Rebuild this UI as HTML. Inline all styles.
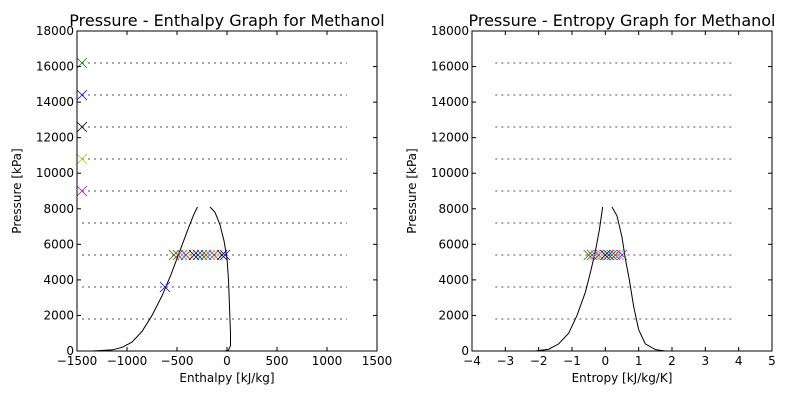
<!DOCTYPE html>
<html><head><meta charset="utf-8"><style>
body{margin:0;background:#fff;font-family:"DejaVu Sans",sans-serif}
svg text{font-family:"DejaVu Sans",sans-serif;font-size:12px}
</style></head><body>
<svg id="c" width="800" height="400"></svg>
<script>
const isoP=[1800,3600,5400,7200,9000,10800,12600,14400,16200];
const domeH=[[-1350,0],[-1150,60],[-1050,200],[-950,500],[-850,1100],[-750,2000],[-650,3100],[-560,4300],[-500,5200],[-440,6100],[-380,7000],[-330,7700],[-295,8100]];
const domeHR=[[-170,8100],[-120,7800],[-70,7100],[-30,6200],[0,5200],[15,4000],[25,2500],[35,1000],[35,300],[15,50],[-20,0]];
const domeS=[[-2.1,0],[-1.7,100],[-1.4,400],[-1.1,1000],[-0.85,2000],[-0.6,3300],[-0.45,4400],[-0.3,5600],[-0.18,6800],[-0.08,8100]];
const domeSR=[[0.2,8100],[0.35,7600],[0.5,6400],[0.6,5200],[0.72,4000],[0.85,2500],[1.0,1200],[1.2,400],[1.5,80],[1.8,0]];
const markH=[-530,-490,-450,-410,-370,-330,-290,-250,-210,-170,-130,-90,-50,-20];
const markS=[-0.5,-0.4,-0.3,-0.2,-0.1,0,0.1,0.2,0.3,0.4,0.5];
const sideP=[9000,10800,12600,14400,16200];
const colors=['#0000ff','#008000','#ff0000','#00bfbf','#bf00bf','#bfbf00','#000000'];
const sideColors=['#bf00bf','#bfbf00','#000000','#0000ff','#008000'];
const xTicksH=[-1500,-1000,-500,0,500,1000,1500];
const xTicksS=[-4,-3,-2,-1,0,1,2,3,4,5];
const yTicks=[0,2000,4000,6000,8000,10000,12000,14000,16000,18000];
const svg=document.getElementById('c');const NS='http://www.w3.org/2000/svg';
function mk(t,a,p){const e=document.createElementNS(NS,t);for(const k in a)e.setAttribute(k,a[k]);(p||svg).appendChild(e);return e;}
function panel(x0,x1,xmin,xmax,xt,title,xl,dL,dR,marks,lineX,side,name){
 const y0=351,y1=31;const sx=v=>x0+(v-xmin)/(xmax-xmin)*(x1-x0);const sy=v=>y0-v/18000*(y0-y1);
 const g=mk('g',{});
 isoP.forEach(p=>{const l=mk('line',{x1:sx(lineX[0]),x2:sx(lineX[1]),y1:sy(p),y2:sy(p),stroke:'#aaa','stroke-width':2,'stroke-dasharray':'2,4'},g);});
 [dL,dR].forEach(d=>{const pl=mk('polyline',{points:d.map(q=>sx(q[0])+','+sy(q[1])).join(' '),fill:'none',stroke:'#000','stroke-width':1},g);});
 function cross(x,y,c){const m=mk('path',{d:`M${x-5},${y-5}L${x+5},${y+5}M${x-5},${y+5}L${x+5},${y-5}`,stroke:c,'stroke-width':0.8},g);}
 marks.forEach((v,i)=>cross(sx(v),sy(5400),colors[(i+1)%7]));
 if(side){side.forEach((p,i)=>cross(sx(-1450),sy(p),sideColors[i]));cross(sx(-620),sy(3600),'#0000ff');}
 mk('rect',{x:x0,y:y1,width:x1-x0,height:y0-y1,fill:'none',stroke:'#000'},g);
 xt.forEach(v=>{const x=sx(v);mk('line',{x1:x,x2:x,y1:y0,y2:y0-4,stroke:'#000'},g);mk('line',{x1:x,x2:x,y1:y1,y2:y1+4,stroke:'#000'},g);const t=mk('text',{x:x,y:y0+14,'text-anchor':'middle'},g);t.textContent=v<0?'\u2212'+(-v):v;});
 yTicks.forEach(v=>{const y=sy(v);mk('line',{x1:x0,x2:x0+4,y1:y,y2:y,stroke:'#000'},g);mk('line',{x1:x1,x2:x1-4,y1:y,y2:y,stroke:'#000'},g);const t=mk('text',{x:x0-3,y:y+4,'text-anchor':'end'},g);t.textContent=v;});
 let t=mk('text',{x:(x0+x1)/2,y:26,'text-anchor':'middle'},g);t.style.fontSize='16px';t.textContent=title;
 t=mk('text',{x:(x0+x1)/2,y:382,'text-anchor':'middle'},g);t.textContent=xl;
 const yc=(y0+y1)/2,xx=x0-56;t=mk('text',{x:xx,y:yc,'text-anchor':'middle',transform:`rotate(-90 ${xx} ${yc})`},g);t.textContent='Pressure [kPa]';
}
panel(77,377,-1500,1500,xTicksH,'Pressure - Enthalpy Graph for Methanol','Enthalpy [kJ/kg]',domeH,domeHR,markH,[-1450,1200],sideP,'enthalpy-plot');
panel(472,772,-4,5,xTicksS,'Pressure - Entropy Graph for Methanol','Entropy [kJ/kg/K]',domeS,domeSR,markS,[-3.3,3.9],null,'entropy-plot');
</script></body></html>
